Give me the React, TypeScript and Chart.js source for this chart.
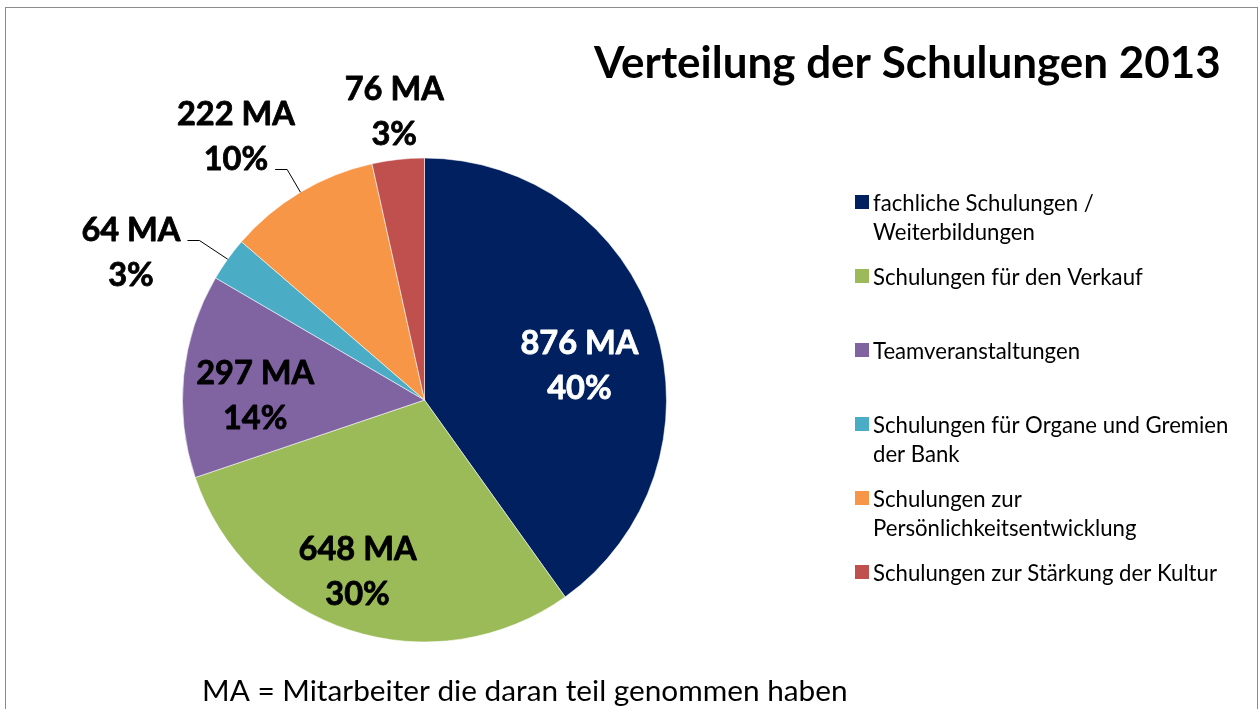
import React, { useEffect, useRef } from "react";
import { Chart, registerables } from "chart.js";

Chart.register(...registerables);

// ---- data ----
const categories = [
  "fachliche Schulungen / Weiterbildungen",
  "Schulungen für den Verkauf",
  "Teamveranstaltungen",
  "Schulungen für Organe und Gremien der Bank",
  "Schulungen zur Persönlichkeitsentwicklung",
  "Schulungen zur Stärkung der Kultur",
];
const legendLines = [
  ["fachliche Schulungen /", "Weiterbildungen"],
  ["Schulungen für den Verkauf"],
  ["Teamveranstaltungen"],
  ["Schulungen für Organe und Gremien", "der Bank"],
  ["Schulungen zur", "Persönlichkeitsentwicklung"],
  ["Schulungen zur Stärkung der Kultur"],
];
const participants = [876, 648, 297, 64, 222, 76];
const unitLabel = "MA";
const titleText = "Verteilung der Schulungen 2013";
const footnoteText = "MA = Mitarbeiter die daran teil genommen haben";

// ---- styles ----
const sliceColors = ["#002060", "#9BBB59", "#8064A2", "#4BACC6", "#F79646", "#C0504D"];
const labelTextColors = ["#FFFFFF", "#000000", "#000000", "#000000", "#000000", "#000000"];
// label placement: radius factor (of outer radius), angle offset (deg) from slice middle, leader line
const labelPlacement = [
  { r: 0.657, d: 4.7, leader: -1 },
  { r: 0.755, d: 3.6, leader: -1 },
  { r: 0.7, d: -3.8, leader: -1 },
  { r: 1.36, d: -8.7, leader: 0 },
  { r: 1.344, d: -4.6, leader: 1 },
  { r: 1.203, d: 0.3, leader: -1 },
];

const FONT = "Lato, 'Open Sans', sans-serif";

function fitSize(ctx: CanvasRenderingContext2D, text: string, target: number, weight: string) {
  ctx.font = `${weight} 100px ${FONT}`;
  const w = ctx.measureText(text).width;
  return (100 * target) / w;
}

function capHeight(ctx: CanvasRenderingContext2D) {
  const m = ctx.measureText("H");
  return m.actualBoundingBoxAscent;
}

const overlayPlugin = {
  id: "overlay",
  afterDraw(chart: any) {
    const ctx: CanvasRenderingContext2D = chart.ctx;
    ctx.save();

    // frame
    ctx.strokeStyle = "#8C8C8C";
    ctx.lineWidth = 1;
    ctx.strokeRect(5.5, 7.5, 1252, 760);

    // title
    const tSize = fitSize(ctx, titleText, 627, "bold");
    ctx.font = `bold ${tSize}px ${FONT}`;
    ctx.fillStyle = "#000";
    ctx.textAlign = "left";
    ctx.textBaseline = "alphabetic";
    ctx.fillText(titleText, 594, 78);

    // legend
    const lSize = fitSize(ctx, "Schulungen für den Verkauf", 270, "normal");
    ctx.font = `normal ${lSize}px ${FONT}`;
    const lCap = capHeight(ctx);
    legendLines.forEach((lines, i) => {
      const cy = 202 + i * 74;
      ctx.fillStyle = sliceColors[i];
      ctx.fillRect(855, cy - 7, 14, 14);
      ctx.fillStyle = "#000";
      lines.forEach((ln, j) => {
        ctx.fillText(ln, 873, cy + j * 29 + lCap / 2);
      });
    });

    // footnote
    const fSize = fitSize(ctx, footnoteText, 646, "normal");
    ctx.font = `normal ${fSize}px ${FONT}`;
    ctx.fillStyle = "#000";
    ctx.fillText(footnoteText, 202, 701);

    // data labels
    const total = participants.reduce((a, b) => a + b, 0);
    const dSize = fitSize(ctx, "222 MA", 118, "bold");
    ctx.font = `bold ${dSize}px ${FONT}`;
    const dCap = capHeight(ctx);
    const meta = chart.getDatasetMeta(0);
    meta.data.forEach((arc: any, i: number) => {
      const p = labelPlacement[i];
      const mid = (arc.startAngle + arc.endAngle) / 2;
      const ang = mid + (p.d * Math.PI) / 180;
      const R = arc.outerRadius;
      const cx = arc.x + Math.cos(ang) * R * p.r;
      const cy = arc.y + Math.sin(ang) * R * p.r;
      const lines = [
        `${participants[i]} ${unitLabel}`,
        `${Math.round((participants[i] / total) * 100)}%`,
      ];
      const lineY = [cy - 22.5, cy + 22.5];
      ctx.fillStyle = labelTextColors[i];
      ctx.strokeStyle = labelTextColors[i];
      ctx.lineWidth = 0.8;
      ctx.lineJoin = "round";
      ctx.textAlign = "center";
      lines.forEach((ln, j) => {
        ctx.fillText(ln, cx, lineY[j] + dCap / 2);
        ctx.strokeText(ln, cx, lineY[j] + dCap / 2);
      });

      if (p.leader >= 0) {
        const w = ctx.measureText(lines[p.leader]).width;
        const sx = cx + w / 2 + 7;
        const sy = Math.round(lineY[p.leader] + 11) + 0.5;
        const ex = arc.x + Math.cos(mid) * R;
        const ey = arc.y + Math.sin(mid) * R;
        ctx.strokeStyle = "#000";
        ctx.lineWidth = 1;
        ctx.beginPath();
        ctx.moveTo(sx, sy);
        ctx.lineTo(sx + 12, sy);
        ctx.lineTo(ex, ey);
        ctx.stroke();
      }
    });

    ctx.restore();
  },
};

export default function App() {
  const canvasRef = useRef<HTMLCanvasElement | null>(null);

  useEffect(() => {
    if (!canvasRef.current) return;
    const chart = new Chart(canvasRef.current, {
      type: "pie",
      data: {
        labels: categories,
        datasets: [
          {
            data: participants,
            backgroundColor: sliceColors,
            borderColor: "rgba(255,255,255,0.55)",
            borderWidth: 1,
          },
        ],
      },
      options: {
        responsive: false,
        animation: false,
        layout: { padding: { left: 182, right: 592, top: 157, bottom: 66 } },
        plugins: {
          legend: { display: false },
          title: { display: false },
          tooltip: { enabled: false },
        },
      },
      plugins: [overlayPlugin],
    });
    return () => chart.destroy();
  }, []);

  return (
    <div style={{ position: "absolute", left: 0, top: 0, width: 1259, height: 709, background: "#fff" }}>
      <canvas ref={canvasRef} width={1259} height={709} style={{ display: "block" }} />
    </div>
  );
}
